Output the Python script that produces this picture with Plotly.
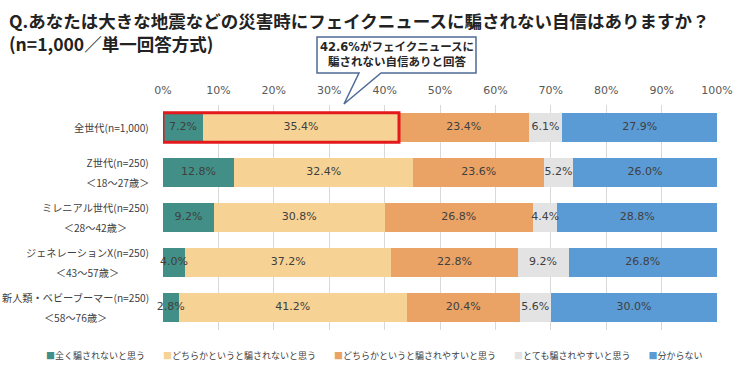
import plotly.graph_objects as go

# ---------------- data ----------------
categories = ["全世代(n=1,000)", "Z世代(n=250)", "ミレニアル世代(n=250)",
              "ジェネレーションX(n=250)", "新人類・ベビーブーマー(n=250)"]
age_ranges = ["", "＜18～27歳＞", "＜28～42歳＞", "＜43～57歳＞", "＜58～76歳＞"]
series_names = ["全く騙されないと思う", "どちらかというと騙されないと思う",
                "どちらかというと騙されやすいと思う", "とても騙されやすいと思う", "分からない"]
not_fooled_at_all = [7.2, 12.8, 9.2, 4.0, 2.8]
rather_not_fooled = [35.4, 32.4, 30.8, 37.2, 41.2]
rather_fooled = [23.4, 23.6, 26.8, 22.8, 20.4]
very_fooled = [6.1, 5.2, 4.4, 9.2, 5.6]
dont_know = [27.9, 26.0, 28.8, 26.8, 30.0]
x_tick_values = [0, 10, 20, 30, 40, 50, 60, 70, 80, 90, 100]
x_tick_labels = ["0%", "10%", "20%", "30%", "40%", "50%", "60%", "70%", "80%", "90%", "100%"]

title_line1 = "Q.あなたは大きな地震などの災害時にフェイクニュースに騙されない自信はありますか？"
title_line2 = "(n=1,000／単一回答方式)"

# ---------------- style ----------------
colors = ["#418F87", "#F6D394", "#EBA365", "#E3E3E3", "#5B9BD5"]
W, H = 750, 374
L, R, T, B = 163, 33, 105, 44
BAR_W = 0.66
CJK = "Noto Sans CJK JP"
NUM = "DejaVu Sans, Noto Sans CJK JP"


def px_x(px):
    return (px - L) / (W - L - R)


def px_y(py):
    return (H - B - py) / (H - T - B)


series = [not_fooled_at_all, rather_not_fooled, rather_fooled, very_fooled, dont_know]

fig = go.Figure()
for name, vals, col in zip(series_names, series, colors):
    fig.add_trace(go.Bar(
        name=name, y=categories, x=vals, orientation="h",
        marker=dict(color=col, line=dict(width=0)),
        width=BAR_W, hoverinfo="skip", showlegend=False,
    ))

# data labels on top of all bars
lab_x, lab_y, lab_t = [], [], []
for i, cat in enumerate(categories):
    cum = 0.0
    for vals in series:
        v = vals[i]
        lab_x.append(cum + v / 2)
        lab_y.append(cat)
        lab_t.append(f"{v:.1f}%")
        cum += v
fig.add_trace(go.Scatter(
    x=lab_x, y=lab_y, text=lab_t, mode="text", textposition="middle center",
    textfont=dict(family=NUM, size=11, color="#404040"),
    hoverinfo="skip", showlegend=False, cliponaxis=False,
))

annotations = []
# category labels (two lines, centred, generous line spacing)
for cat, age in zip(categories, age_ranges):
    txt = f"<span style='font-size:10.2px'>{cat}</span>"
    if age:
        txt += f"<br><span style='font-size:10.2px'>{age}</span>"
    annotations.append(dict(
        text=txt, xref="paper", x=0, xshift=-12, xanchor="right",
        yref="y", y=cat, yanchor="middle", showarrow=False, align="center",
        font=dict(family=CJK, size=15, color="#404040"),
    ))

# callout
top_share = not_fooled_at_all[0] + rather_not_fooled[0]
bx0, bx1, by0, by1 = 317, 476, 37, 73
tail_l, tail_r, tip_x, tip_y = 359, 381, 344, 104
pts = [(bx0, by0), (bx1, by0), (bx1, by1), (tail_r, by1), (tip_x, tip_y),
       (tail_l, by1), (bx0, by1)]
path = "M " + " L ".join(f"{px_x(a):.5f},{px_y(b):.5f}" for a, b in pts) + " Z"

shapes = [
    dict(type="rect", xref="x", yref="y", x0=0, x1=top_share,
         y0=-BAR_W / 2, y1=BAR_W / 2, line=dict(color="#E3191C", width=3),
         fillcolor="rgba(0,0,0,0)", layer="above"),
    dict(type="path", xref="paper", yref="paper", path=path,
         fillcolor="white", line=dict(color="#4F6B96", width=1.5), layer="above"),
]
annotations.append(dict(
    text=f"<b>{top_share:.1f}%がフェイクニュースに<br>騙されない自信ありと回答</b>",
    xref="paper", yref="paper", x=px_x((bx0 + bx1) / 2), y=px_y((by0 + by1) / 2),
    xanchor="center", yanchor="middle", showarrow=False, align="center",
    font=dict(family=NUM, size=11.5, color="#262626"),
))

# title
annotations.append(dict(
    text=f"<b>{title_line1}</b><br><b>{title_line2}</b>",
    xref="paper", yref="paper", x=px_x(7), y=px_y(6),
    xanchor="left", yanchor="top", showarrow=False, align="left",
    font=dict(family=CJK, size=17.5, color="#222222"),
))

# legend (single line)
legend_txt = "　　".join(
    f"<span style='color:{c}'>■</span>{n}" for n, c in zip(series_names, colors))
annotations.append(dict(
    text=legend_txt, xref="paper", yref="paper", x=px_x(374), y=px_y(355),
    xanchor="center", yanchor="middle", showarrow=False,
    font=dict(family=CJK, size=9, color="#404040"),
))

fig.update_layout(
    width=W, height=H, margin=dict(l=L, r=R, t=T, b=B, autoexpand=False),
    paper_bgcolor="white", plot_bgcolor="white",
    barmode="stack", bargap=0,
    font=dict(family=CJK, color="#404040"),
    xaxis=dict(
        side="top", range=[0, 100], tickvals=x_tick_values, ticktext=x_tick_labels,
        showgrid=True, gridcolor="#D9D9D9", gridwidth=1, zeroline=False,
        showline=False, ticks="", ticklabelstandoff=8,
        tickfont=dict(family=NUM, size=11, color="#595959"),
        fixedrange=True,
    ),
    yaxis=dict(
        type="category", categoryorder="array", categoryarray=categories,
        range=[len(categories) - 0.5, -0.5], showticklabels=False,
        showgrid=False, zeroline=False, showline=False, ticks="",
        fixedrange=True,
    ),
    shapes=shapes,
    annotations=annotations,
)

fig.write_html(
    "out.html",
    config={"displayModeBar": False, "staticPlot": True},
    post_script="document.body.style.margin='0';document.body.style.overflow='hidden';",
)
